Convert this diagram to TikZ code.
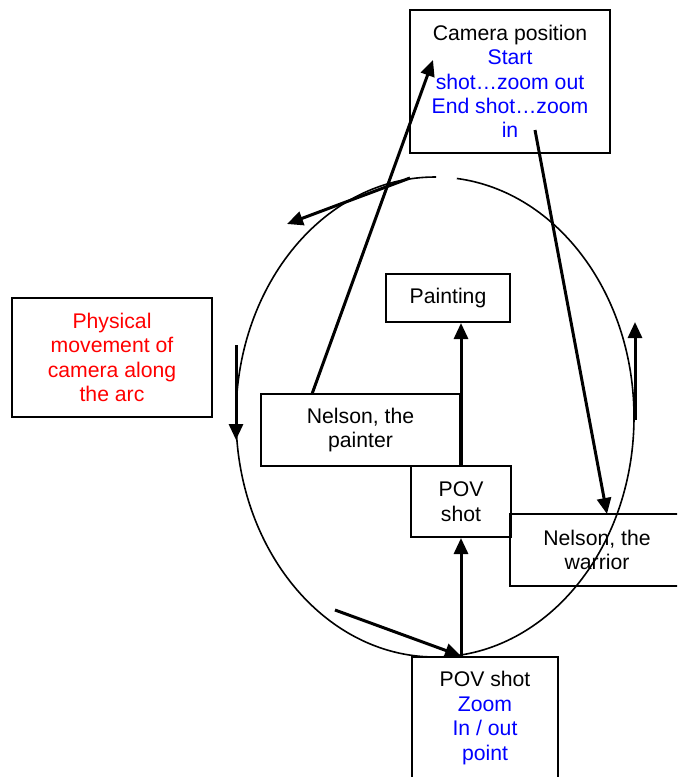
\documentclass[tikz,border=0pt]{standalone}
\usepackage{fontspec}
\setmainfont{Liberation Sans}
\usetikzlibrary{arrows.meta}

\begin{document}
\begin{tikzpicture}[x=0.5pt,y=-0.5pt,
	box/.style={draw,line width=1pt,inner sep=0pt,align=center,font=\fontsize{10.6}{12.2}\selectfont},
	arr/.style={line width=1.5pt,-{Triangle[length=8pt,width=7pt]}}]
	%\draw[help lines] (0,0) grid[step=50] (677,777);
	\useasboundingbox (0,0) rectangle (677,777);
	\clip (0,0) rectangle (677,777);
	\node[box,text=blue,minimum width=100pt,minimum height=71.5pt] (camera) at (510,81.5) {\textcolor{black}{Camera position}\\Start\\shot…zoom out\\End shot…zoom\\in};
	\node[box,text=red,minimum width=100pt,minimum height=59.5pt] (move) at (112,357.5) {Physical\\movement of\\camera along\\the arc};
	\node[box,minimum width=62pt,minimum height=24pt] (paint) at (448,298) {Painting};
	\node[box,minimum width=99.5pt,minimum height=36pt] (painter) at (360.5,430) {Nelson, the\\painter};
	\node[box,minimum width=50pt,minimum height=35.5pt] (pov) at (461,501.5) {POV\\shot};
	\node[box,minimum width=87pt,minimum height=36pt] (warrior) at (597,550) {Nelson, the\\warrior};
	\node[box,text=blue,minimum width=73pt,minimum height=61pt] (zoom) at (485,718) {\textcolor{black}{POV shot}\\Zoom\\In / out\\point};
	% the arc
	\coordinate (arc) at (435,417);
	\draw[line width=0.8pt] (arc) ++(89.7:99.5pt and 120pt) arc[start angle=89.7,end angle=443.7,x radius=99.5pt,y radius=120pt];
	\coordinate (t1) at (410,178);
	\coordinate (t2) at (287,224);
	\coordinate (l1) at (236,345);
	\coordinate (l2) at (236,440);
	\coordinate (r1) at (635,420);
	\coordinate (r2) at (635,322);
	\coordinate (b1) at (335,610);
	\coordinate (meet) at (pov.south |- zoom.north);
	\draw[arr] (t1) -- (t2);
	\draw[arr] (l1) -- (l2);
	\draw[arr] (r1) -- (r2);
	\draw[arr] (b1) -- (meet);
	% shots
	\draw[arr] (meet) -- (pov.south);
	\draw[arr] (pov.north) -- (pov.north |- paint.south);
	\coordinate (c1) at (312,394);
	\coordinate (c2) at (433,60);
	\coordinate (c3) at (535,130);
	\coordinate (c4) at (607,514);
	\draw[arr] (c1) -- (c2);
	\draw[arr] (c3) -- (c4);
\end{tikzpicture}
\end{document}
